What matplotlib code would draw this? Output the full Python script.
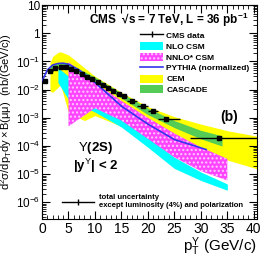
import numpy as np
import matplotlib.pyplot as plt
from matplotlib.patches import Patch
from matplotlib.lines import Line2D
import matplotlib.ticker as ticker

plt.rcParams['font.family'] = ['Liberation Sans', 'DejaVu Sans']
plt.rcParams['mathtext.fontset'] = 'custom'
plt.rcParams['mathtext.rm'] = 'Liberation Sans'
plt.rcParams['mathtext.it'] = 'Liberation Sans'
plt.rcParams['mathtext.bf'] = 'Liberation Sans:bold'

# CMS data (pT bin centre, low edge, high edge, value, error)
pt = [0.5, 1.5, 2.5, 3.5, 4.5, 5.5, 6.5, 7.5, 8.5, 9.5, 10.5, 11.5, 12.5, 13.5,
      14.5, 15.5, 17.0, 19.0, 21.0, 23.5, 33.5]
pt_lo = [0, 1, 2, 3, 4, 5, 6, 7, 8, 9, 10, 11, 12, 13, 14, 15, 16, 18, 20, 22, 28]
pt_hi = [1, 2, 3, 4, 5, 6, 7, 8, 9, 10, 11, 12, 13, 14, 15, 16, 18, 20, 22, 26, 50]
xsec = [0.020, 0.045, 0.060, 0.063, 0.062, 0.054, 0.045, 0.036, 0.029, 0.023,
        0.018, 0.0145, 0.0115, 0.0091, 0.0072, 0.0058, 0.0041, 0.0026, 0.0018,
        0.00089, 0.00019]
xsec_err = [0.002, 0.004, 0.005, 0.005, 0.005, 0.004, 0.004, 0.003, 0.0025,
            0.002, 0.0015, 0.0012, 0.001, 0.0008, 0.0006, 0.0005, 0.00035,
            0.00022, 0.00016, 0.00009, 0.00003]

# NLO CSM band
nlo_pt = [3, 5, 10, 15, 20, 25, 30, 35]
nlo_lo = [0.018, 4.5e-3, 1.6e-3, 4.7e-4, 9e-5, 1.6e-5, 6e-6, 2.7e-6]
nlo_hi = [0.06, 0.03, 5e-3, 9e-4, 2.0e-4, 4e-5, 1.2e-5, 4.5e-6]

# NNLO* CSM band
nnlo_pt = [5, 10, 15, 20, 25, 30, 35]
nnlo_lo = [5e-4, 2.2e-3, 8e-4, 1.8e-4, 4e-5, 1.3e-5, 6e-6]
nnlo_hi = [0.095, 0.018, 4e-3, 1.0e-3, 2.8e-4, 9e-5, 3.5e-5]

# PYTHIA (normalized)
py_pt = [0, 1, 2, 3, 4, 5, 7, 10, 15, 20, 25, 31]
py_val = [0.020, 0.050, 0.075, 0.085, 0.087, 0.080, 0.050, 0.018, 2.6e-3,
          6.0e-4, 1.7e-4, 7.5e-5]

# CEM band
cem_pt = [1.5, 2, 3, 3.5, 5, 8, 10, 15, 20, 25, 30, 35, 42]
cem_lo = [0.009, 0.008, 0.012, 0.015, 1.5e-3, 8e-4, 1.2e-3, 5e-4, 2.5e-4,
          1.2e-4, 6e-5, 3.2e-5, 1.3e-5]
cem_hi = [0.09, 0.15, 0.21, 0.22, 0.17, 0.06, 0.03, 8e-3, 2.5e-3, 1.1e-3,
          6e-4, 3.5e-4, 2.0e-4]

# CASCADE band
cas_pt = [1.5, 3, 5, 10, 15, 20, 25, 30, 34]
cas_lo = [0.05, 0.07, 0.06, 0.02, 5e-3, 1.3e-3, 4.5e-4, 1.8e-4, 1.0e-4]
cas_hi = [0.07, 0.09, 0.085, 0.028, 7.5e-3, 2.2e-3, 8e-4, 3.6e-4, 2.3e-4]

fig = plt.figure(figsize=(2.66, 2.56), dpi=100)
ax = fig.add_axes([0.158, 0.145, 0.808, 0.835])

ax.fill_between(cem_pt, cem_lo, cem_hi, color='#ffff00', lw=0, zorder=1)
ax.fill_between(nlo_pt, nlo_lo, nlo_hi, color='#00ffff', lw=0, zorder=2)
ax.fill_between(nnlo_pt, nnlo_lo, nnlo_hi, facecolor='#ff44ff', hatch='....',
                edgecolor='#ffccff', lw=0, zorder=3)
ax.fill_between(cas_pt, cas_lo, cas_hi, color='#55cc55', lw=0, zorder=4)
ax.plot(py_pt, py_val, color='#3333ee', lw=1.2, zorder=5)

xerr = [np.array(pt) - np.array(pt_lo), np.array(pt_hi) - np.array(pt)]
ax.errorbar(pt, xsec, xerr=xerr, yerr=xsec_err, fmt='s', ms=2.5, color='black',
            lw=1.0, capsize=0, zorder=6)

ax.set_yscale('log')
ax.set_xlim(0, 40.6)
ax.set_ylim(2.6e-7, 10)


def log_fmt(v, pos):
    e = int(round(np.log10(v)))
    if e == 1:
        return '10'
    if e == 0:
        return '1'
    return r'$\mathregular{10^{%d}}$' % e


ax.xaxis.set_major_locator(ticker.MultipleLocator(5))
ax.xaxis.set_minor_locator(ticker.MultipleLocator(1))
ax.yaxis.set_major_locator(ticker.LogLocator(base=10, numticks=20))
ax.yaxis.set_major_formatter(ticker.FuncFormatter(log_fmt))
ax.yaxis.set_minor_locator(ticker.LogLocator(base=10, subs=np.arange(2, 10), numticks=20))
ax.yaxis.set_minor_formatter(ticker.NullFormatter())
ax.tick_params(which='both', direction='in', top=True, right=True, labelsize=10, pad=2)
ax.tick_params(axis='y', labelsize=8.5, pad=1.5)
ax.tick_params(which='major', length=6)
ax.tick_params(which='minor', length=3)

ax.set_ylabel(r'$\mathregular{d^2\sigma/dp_T dy \times B(\mu\mu)}$  (nb/(GeV/c))',
              fontsize=8, labelpad=0)
ax.yaxis.set_label_coords(-0.132, 0.5)
ax.set_xlabel(r'$\mathregular{p_T^{\Upsilon}}$ (GeV/c)', fontsize=11, labelpad=0)
ax.xaxis.set_label_coords(1.0, -0.075)
ax.xaxis.label.set_horizontalalignment('right')

ax.text(0.22, 0.93, 'CMS  \u221as = 7 TeV, L = 36 pb$^{\\mathregular{-1}}$',
        transform=ax.transAxes, fontsize=8.5, fontweight='bold', va='center')
ax.text(0.83, 0.477, '(b)', transform=ax.transAxes, fontsize=10, fontweight='bold', va='center')
ax.text(0.248, 0.332, r'$\Upsilon$(2S)', transform=ax.transAxes, fontsize=9.5,
        fontweight='bold', va='center', ha='center')
ax.text(0.248, 0.248, r'|y$^{\Upsilon}$| < 2', transform=ax.transAxes, fontsize=9.5,
        fontweight='bold', va='center', ha='center')

handles = [Line2D([], [], color='black', marker='|', ms=5, lw=1.0),
           Patch(facecolor='#00ffff', lw=0),
           Patch(facecolor='#ff44ff', hatch='....', edgecolor='#ffccff', lw=0),
           Line2D([], [], color='#3333ee', lw=1.2),
           Patch(facecolor='#ffff00', lw=0),
           Patch(facecolor='#55cc55', lw=0)]
labels = ['CMS data', 'NLO CSM', 'NNLO* CSM', 'PYTHIA (normalized)', 'CEM', 'CASCADE']
leg = ax.legend(handles, labels, loc='upper left', bbox_to_anchor=(0.44, 0.895),
                frameon=False, prop={'weight': 'bold', 'size': 6},
                handlelength=2.8, handleheight=1.1, handletextpad=0.35,
                labelspacing=0.25, borderaxespad=0)

# bottom legend for total uncertainty
unc = ax.legend([Line2D([], [], color='black', marker='|', ms=5, lw=1.0)],
                ['total uncertainty\nexcept luminosity (4%) and polarization'],
                loc='lower left', bbox_to_anchor=(0.08, 0.03), frameon=False,
                prop={'weight': 'bold', 'size': 5.5}, handlelength=4.2,
                handletextpad=0.6, borderaxespad=0)
ax.add_artist(leg)

fig.savefig('out.png', dpi=100)
